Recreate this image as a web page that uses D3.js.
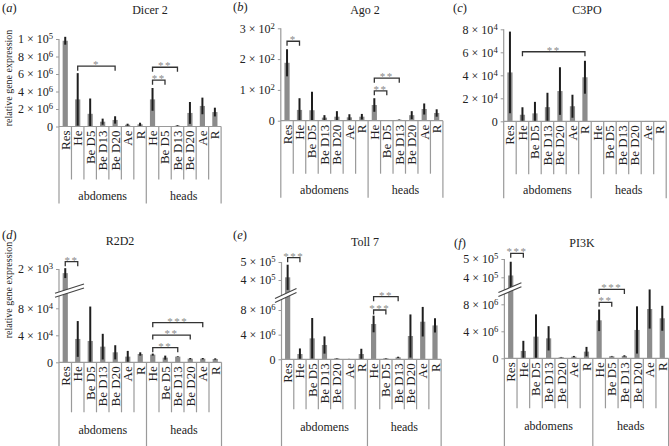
<!DOCTYPE html>
<html>
<head>
<meta charset="utf-8">
<script src="https://cdn.jsdelivr.net/npm/d3@7"></script>
<style>
  body { margin: 0; background: #fff; }
  svg text { font-family: "Liberation Serif", "DejaVu Serif", "Times New Roman", serif; fill: #222; }
</style>
</head>
<body>
<svg id="chart" width="669" height="446" font-family="Liberation Serif, DejaVu Serif, serif"></svg>
<script>
// categories along the x axis (abdomens then heads)
var categories = ["Res", "He", "Be D5", "Be D13", "Be D20", "Ae", "R",
                  "He", "Be D5", "Be D13", "Be D20", "Ae", "R"];
var groups = ["abdomens", "heads"];
var groupSizes = [7, 6];

// (a) Dicer 2
var dicerMean = [9.8e6, 3.1e6, 1.45e6, 0.55e6, 0.75e6, 0.2e6, 0.25e6, 3.1e6, 0.03e6, 0.1e6, 1.55e6, 2.35e6, 1.65e6];
var dicerErr  = [0.45e6, 3.0e6, 1.75e6, 0.35e6, 0.42e6, 0.12e6, 0.18e6, 1.3e6, 0.02e6, 0.05e6, 1.25e6, 0.95e6, 0.5e6];
var dicerTicks = [0, 2e6, 4e6, 6e6, 8e6, 10e6];
var dicerTickLabels = ["0", "2 × 10^6", "4 × 10^6", "6 × 10^6", "8 × 10^6", "1 × 10^5"];
var dicerSig = [[1, 4, 6.9e6, "*"], [7, 8, 5.3e6, "**"], [7, 9, 6.77e6, "**"]];

// (b) Ago 2
var agoMean = [188, 35, 34, 10, 13, 11, 13, 51, 1, 3, 18, 38, 25];
var agoErr  = [44, 38, 60, 8, 18, 10, 9, 22, 1, 1, 13, 18, 12];
var agoTicks = [0, 100, 200, 300];
var agoTickLabels = ["0", "1 × 10^2", "2 × 10^2", "3 × 10^2"];
var agoSig = [[0, 1, 258, "*"], [7, 8, 97, "**"], [7, 9, 138, "**"]];

// (c) C3PO
var c3poMean = [4.25e4, 0.57e4, 0.69e4, 1.23e4, 2.63e4, 1.31e4, 3.83e4, 0, 0, 0, 0, 0.03e4, 0];
var c3poErr  = [3.55e4, 0.65e4, 1.0e4, 1.25e4, 2.07e4, 1.0e4, 1.43e4, 0, 0, 0, 0, 0, 0];
var c3poTicks = [0, 2e4, 4e4, 6e4, 8e4];
var c3poTickLabels = ["0", "2 × 10^4", "4 × 10^4", "6 × 10^4", "8 × 10^4"];
var c3poSig = [[1, 6, 6.05e4, "**"]];

// (d) R2D2 (Res read on the upper, broken part of the axis)
var r2d2Mean = [1.85e3, 3.46e4, 3.16e4, 2.32e4, 1.48e4, 0.84e4, 1.23e4, 1.14e4, 0.69e4, 0.84e4, 0.54e4, 0.54e4, 0.49e4];
var r2d2Err  = [0.18e3, 2.65e4, 5.1e4, 1.9e4, 1.05e4, 0.85e4, 0.25e4, 0.15e4, 0.3e4, 0.05e4, 0.1e4, 0.1e4, 0.1e4];
var r2d2Ticks = [0, 4e4, 8e4];
var r2d2TickLabels = ["0", "4 × 10^4", "8 × 10^4"];
var r2d2UpTicks = [2e3];
var r2d2UpTickLabels = ["2 × 10^3"];
var r2d2Sig = [[0, 1, 2.265e3, "**"], [7, 9, 2.16e4, "**"], [7, 10, 4.04e4, "**"], [7, 11, 5.87e4, "***"]];

// (e) Toll 7
var tollMean = [4.15e5, 0.86e6, 3.4e6, 2.32e6, 0.16e6, 0.05e6, 0.86e6, 5.73e6, 0.16e6, 0.32e6, 3.78e6, 6.1e6, 5.5e6];
var tollErr  = [0.7e5, 0.9e6, 3.3e6, 1.4e6, 0.05e6, 0.02e6, 0.85e6, 1.35e6, 0.05e6, 0.1e6, 3.5e6, 2.4e6, 1.15e6];
var tollTicks = [0, 4e6, 8e6];
var tollTickLabels = ["0", "4 × 10^6", "8 × 10^6"];
var tollUpTicks = [4e5, 5e5];
var tollUpTickLabels = ["4 × 10^5", "5 × 10^5"];
var tollSig = [[0, 1, 5.24e5, "***"], [7, 8, 8.0e6, "***"], [7, 9, 10.16e6, "**"]];

// (f) PI3K
var pi3kMean = [4.1e5, 1.09e6, 3.21e6, 2.96e6, 0.15e6, 0.25e6, 0.99e6, 5.63e6, 0.3e6, 0.35e6, 4.2e6, 7.3e6, 5.93e6];
var pi3kErr  = [0.75e5, 1.5e6, 3.3e6, 1.8e6, 0.05e6, 0.1e6, 0.7e6, 1.6e6, 0.05e6, 0.1e6, 3.5e6, 2.9e6, 1.85e6];
var pi3kTicks = [0, 4e6, 8e6];
var pi3kTickLabels = ["0", "4 × 10^6", "8 × 10^6"];
var pi3kUpTicks = [4e5, 5e5];
var pi3kUpTickLabels = ["4 × 10^5", "5 × 10^5"];
var pi3kSig = [[0, 1, 5.31e5, "***"], [7, 8, 8.3e6, "**"], [7, 9, 10.2e6, "***"]];

// layout of each row of panels
var rows = [
  {divLen: 53, groupLabel: 73, groupLine: 77},
  {divLen: 50, groupLabel: 72, groupLine: 95}
];

var panels = [
  {letter: "a", title: "Dicer 2", mean: dicerMean, err: dicerErr, sig: dicerSig,
   ticks: dicerTicks, tickLabels: dicerTickLabels, row: 0,
   x0: 59, bw: 12.47, lowDomain: [0, 10e6], lowRange: [126.5, 39],
   letterPos: [2, 12], titlePos: [150, 14]},
  {letter: "b", title: "Ago 2", mean: agoMean, err: agoErr, sig: agoSig,
   ticks: agoTicks, tickLabels: agoTickLabels, row: 0,
   x0: 280.8, bw: 12.47, lowDomain: [0, 300], lowRange: [120.7, 28.3],
   letterPos: [233, 11], titlePos: [365, 14]},
  {letter: "c", title: "C3PO", mean: c3poMean, err: c3poErr, sig: c3poSig,
   ticks: c3poTicks, tickLabels: c3poTickLabels, row: 0,
   x0: 503.7, bw: 12.5, lowDomain: [0, 8e4], lowRange: [121.3, 29.3],
   letterPos: [453, 12], titlePos: [587, 14]},
  {letter: "d", title: "R2D2", mean: r2d2Mean, err: r2d2Err, sig: r2d2Sig,
   ticks: r2d2Ticks, tickLabels: r2d2TickLabels, upTicks: r2d2UpTicks, upTickLabels: r2d2UpTickLabels, row: 1,
   x0: 59, bw: 12.5, lowDomain: [0, 8e4], lowRange: [362.3, 308.3],
   upDomain: [1e3, 2e3], upRange: [296.5, 269],
   brk: {y: 294, slope: -0.32, dx0: -4, dx1: 25},
   letterPos: [2, 239], titlePos: [120, 244.5]},
  {letter: "e", title: "Toll 7", mean: tollMean, err: tollErr, sig: tollSig,
   ticks: tollTicks, tickLabels: tollTickLabels, upTicks: tollUpTicks, upTickLabels: tollUpTickLabels, row: 1,
   x0: 281.5, bw: 12.28, lowDomain: [0, 8e6], lowRange: [359.3, 310],
   upDomain: [4e5, 5e5], upRange: [280, 262],
   brk: {y: 297.5, slope: -0.46, dx0: -6.5, dx1: 15},
   letterPos: [233, 239], titlePos: [365, 245.5]},
  {letter: "f", title: "PI3K", mean: pi3kMean, err: pi3kErr, sig: pi3kSig,
   ticks: pi3kTicks, tickLabels: pi3kTickLabels, upTicks: pi3kUpTicks, upTickLabels: pi3kUpTickLabels, row: 1,
   x0: 504.4, bw: 12.63, lowDomain: [0, 8e6], lowRange: [358.3, 304.3],
   upDomain: [4e5, 5e5], upRange: [277.3, 259],
   brk: {y: 292, slope: -0.43, dx0: -6, dx1: 17},
   letterPos: [454, 246.5], titlePos: [582, 246.5]}
];

var svg = d3.select("#chart");
var axisColor = "#9a9a9a";
var serif = "Liberation Serif, DejaVu Serif, serif";

function superscript(sel) {
  sel.each(function() {
    var t = d3.select(this), s = t.text().split("^");
    t.text(s[0]);
    if (s[1]) t.append("tspan").attr("dy", "-0.45em").attr("font-size", "0.72em").text(s[1]);
  });
}

function drawAxis(g, scale, x0, ticks, labels) {
  var ax = g.append("g")
      .attr("transform", "translate(" + x0 + ",0)")
      .call(d3.axisLeft(scale).tickValues(ticks).tickSize(3).tickSizeOuter(0)
        .tickFormat(function(d, i) { return labels[i]; }));
  ax.attr("font-family", serif).attr("font-size", 12);
  ax.select(".domain").remove();
  ax.selectAll(".tick line").attr("stroke", axisColor);
  ax.selectAll("text").attr("fill", "#222").call(superscript);
}

function drawPanel(p) {
  var row = rows[p.row];
  var g = svg.append("g");
  var n = categories.length;
  var x = d3.scaleBand().domain(d3.range(n)).range([p.x0, p.x0 + p.bw * n]);
  var y = d3.scaleLinear().domain(p.lowDomain).range(p.lowRange);
  var yUp = p.upDomain ? d3.scaleLinear().domain(p.upDomain).range(p.upRange) : null;
  var yv = function(i, v) { return (i === 0 && yUp) ? yUp(v) : y(v); };
  var cx = function(i) { return x(i) + x.bandwidth() / 2; };
  var zero = y(0);
  var xEnd = p.x0 + p.bw * n;
  var rowsData = p.mean.map(function(v, i) { return {i: i, v: v, e: p.err[i]}; });

  // bars
  g.selectAll("rect.bar").data(rowsData).enter().append("rect")
      .attr("class", "bar")
      .attr("x", function(d) { return cx(d.i) - 2.6; })
      .attr("width", 5.2)
      .attr("y", function(d) { return yv(d.i, d.v); })
      .attr("height", function(d) { return Math.max(0, zero - yv(d.i, d.v)); })
      .attr("fill", "#8c8c8c");

  // error bars
  g.selectAll("line.err").data(rowsData.filter(function(d) { return d.e > 0; })).enter().append("line")
      .attr("class", "err")
      .attr("x1", function(d) { return cx(d.i); })
      .attr("x2", function(d) { return cx(d.i); })
      .attr("y1", function(d) { return Math.min(zero, yv(d.i, Math.max(0, d.v - d.e))); })
      .attr("y2", function(d) { return yv(d.i, d.v + d.e); })
      .attr("stroke", "#1e1e1e")
      .attr("stroke-width", 2);

  // axis lines
  var topY = yUp ? yUp(d3.max(p.upTicks)) : y(d3.max(p.ticks));
  g.append("line").attr("x1", p.x0).attr("x2", p.x0)
      .attr("y1", topY).attr("y2", zero + row.groupLine)
      .attr("stroke", axisColor).attr("stroke-width", 1.2);
  g.append("line").attr("x1", p.x0).attr("x2", xEnd)
      .attr("y1", zero).attr("y2", zero)
      .attr("stroke", axisColor).attr("stroke-width", 1.2);
  drawAxis(g, y, p.x0, p.ticks, p.tickLabels);
  if (yUp) drawAxis(g, yUp, p.x0, p.upTicks, p.upTickLabels);

  // category dividers and group dividers
  var bounds = Array.from(d3.cumsum(groupSizes));
  g.selectAll("line.div").data(d3.range(1, n + 1)).enter().append("line")
      .attr("x1", function(k) { return p.x0 + k * p.bw; })
      .attr("x2", function(k) { return p.x0 + k * p.bw; })
      .attr("y1", zero)
      .attr("y2", function(k) { return zero + (bounds.indexOf(k) >= 0 ? row.groupLine : row.divLen); })
      .attr("stroke", axisColor).attr("stroke-width", 1.2);

  // category labels
  g.selectAll("text.cat").data(categories).enter().append("text")
      .attr("transform", function(d, i) { return "translate(" + cx(i) + "," + (zero + 4) + ") rotate(-90)"; })
      .attr("text-anchor", "end")
      .attr("dominant-baseline", "central")
      .attr("font-size", 13)
      .text(function(d) { return d; });

  // group labels
  var starts = [0].concat(bounds.slice(0, -1));
  g.selectAll("text.grp").data(groups).enter().append("text")
      .attr("x", function(d, i) { return p.x0 + (starts[i] + groupSizes[i] / 2) * p.bw; })
      .attr("y", zero + row.groupLabel)
      .attr("text-anchor", "middle")
      .attr("font-size", 12)
      .text(function(d) { return d; });

  // significance brackets
  var sy = function(s) { return s[0] === 0 && yUp ? yUp(s[2]) : y(s[2]); };
  var sg = g.selectAll("g.sig").data(p.sig).enter().append("g");
  sg.append("path")
      .attr("d", function(s) {
        var ly = sy(s);
        return "M" + cx(s[0]) + "," + (ly + 4.5) + "V" + ly + "H" + cx(s[1]) + "V" + (ly + 4.5);
      })
      .attr("fill", "none").attr("stroke", "#333").attr("stroke-width", 1.3);
  sg.append("text")
      .attr("x", function(s) { return (cx(s[0]) + cx(s[1])) / 2; })
      .attr("y", function(s) { return sy(s) + 2; })
      .attr("text-anchor", "middle")
      .attr("font-size", 11)
      .attr("letter-spacing", 1.5)
      .style("fill", "#8a8a8a")
      .text(function(s) { return s[3]; });

  // axis break
  if (p.brk) {
    var b = p.brk;
    var xa = p.x0 + b.dx0, xb = p.x0 + b.dx1;
    var ya = b.y + b.slope * b.dx0, yb = b.y + b.slope * b.dx1;
    g.append("polygon")
        .attr("points", [[xa, ya - 2], [xb, yb - 2], [xb, yb + 2], [xa, ya + 2]].join(" "))
        .attr("fill", "#fff");
    [-2, 2].forEach(function(o) {
      g.append("line").attr("x1", xa).attr("y1", ya + o).attr("x2", xb).attr("y2", yb + o)
          .attr("stroke", "#444").attr("stroke-width", 1.1);
    });
  }

  // panel letter and title
  var lt = g.append("text").attr("x", p.letterPos[0]).attr("y", p.letterPos[1]).attr("font-size", 12.5);
  lt.append("tspan").text("(");
  lt.append("tspan").attr("font-style", "italic").text(p.letter);
  lt.append("tspan").text(")");
  g.append("text").attr("x", p.titlePos[0]).attr("y", p.titlePos[1])
      .attr("text-anchor", "middle").attr("font-size", 12).text(p.title);
}

panels.forEach(drawPanel);

// y axis titles
[78, 290].forEach(function(cy) {
  svg.append("text")
      .attr("transform", "translate(8," + cy + ") rotate(-90)")
      .attr("text-anchor", "middle")
      .attr("dominant-baseline", "central")
      .attr("font-size", 10)
      .text("relative gene expression");
});
</script>
</body>
</html>
